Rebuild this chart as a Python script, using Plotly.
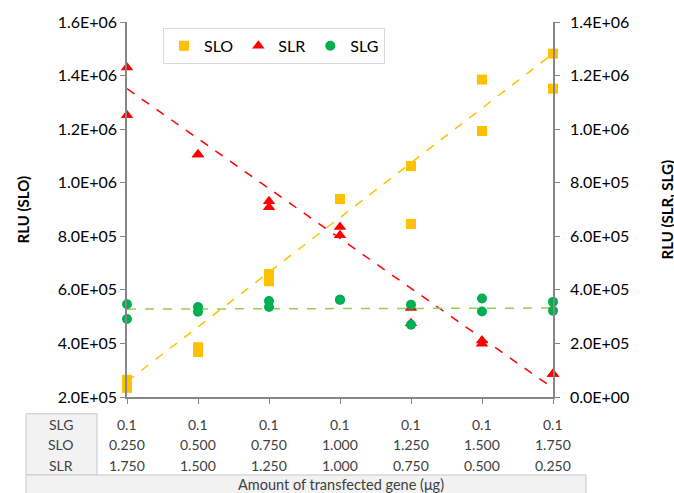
import plotly.graph_objects as go

# ---- data ----
slg_amt = ["0.1", "0.1", "0.1", "0.1", "0.1", "0.1", "0.1"]
slo_amt = ["0.250", "0.500", "0.750", "1.000", "1.250", "1.500", "1.750"]
slr_amt = ["1.750", "1.500", "1.250", "1.000", "0.750", "0.500", "0.250"]
cat_idx = [0, 1, 2, 3, 4, 5, 6]

# replicate measurements (two per condition)
slo_rep1 = [2.64e5, 3.86e5, 6.59e5, 9.39e5, 1.062e6, 1.385e6, 1.482e6]
slo_rep2 = [2.34e5, 3.68e5, 6.32e5, 9.39e5, 8.46e5, 1.193e6, 1.351e6]
slr_rep1 = [1.23e6, 9.05e5, 7.31e5, 6.35e5, 3.32e5, 2.11e5, 8.6e4]
slr_rep2 = [1.052e6, 9.05e5, 7.08e5, 6.04e5, 2.75e5, 1.99e5, 8.6e4]
slg_rep1 = [3.46e5, 3.36e5, 3.58e5, 3.63e5, 3.44e5, 3.68e5, 3.55e5]
slg_rep2 = [2.91e5, 3.18e5, 3.36e5, 3.63e5, 2.70e5, 3.19e5, 3.22e5]

# linear trend lines (first and last category)
trend_x = [0, 6]
slo_trend = [2.58e5, 1.482e6]
slr_trend = [1.151e6, 3.3e4]
slg_trend = [3.28e5, 3.32e5]

left_ticks = [2e5, 4e5, 6e5, 8e5, 1e6, 1.2e6, 1.4e6, 1.6e6]
left_ticktext = ["2.0E+05", "4.0E+05", "6.0E+05", "8.0E+05", "1.0E+06", "1.2E+06", "1.4E+06", "1.6E+06"]
right_ticks = [0, 2e5, 4e5, 6e5, 8e5, 1e6, 1.2e6, 1.4e6]
right_ticktext = ["0.0E+00", "2.0E+05", "4.0E+05", "6.0E+05", "8.0E+05", "1.0E+06", "1.2E+06", "1.4E+06"]

# ---- styles ----
C_SLO = "#FFC000"
C_SLR = "#FF0000"
C_SLG = "#00B050"
C_SLG_T = "#92D050"
AX = "#868686"
FONT = "Lato"

W, H = 674, 493
L, R, T, B = 127, 121, 17, 96
PW, PH = W - L - R, H - T - B


def px_x(p):
    return (p - L) / PW


def px_y(p):
    return (H - B - p) / PH


fig = go.Figure()

xs = cat_idx + cat_idx

# trend lines
fig.add_trace(go.Scatter(x=trend_x, y=slo_trend, mode="lines", line=dict(color=C_SLO, dash="dash", width=1.5),
                         showlegend=False, hoverinfo="skip"))
fig.add_trace(go.Scatter(x=trend_x, y=slr_trend, mode="lines", line=dict(color=C_SLR, dash="dash", width=1.5),
                         showlegend=False, hoverinfo="skip", yaxis="y2"))
fig.add_trace(go.Scatter(x=trend_x, y=slg_trend, mode="lines", line=dict(color=C_SLG_T, dash="dash", width=1.5),
                         showlegend=False, hoverinfo="skip", yaxis="y2"))

# markers
fig.add_trace(go.Scatter(x=xs, y=slo_rep1 + slo_rep2, mode="markers", name="SLO",
                         marker=dict(symbol="square", size=10, color=C_SLO), cliponaxis=False))
fig.add_trace(go.Scatter(x=xs, y=slr_rep1 + slr_rep2, mode="markers", name="SLR", yaxis="y2",
                         marker=dict(symbol="triangle-up", size=11, color=C_SLR), cliponaxis=False))
fig.add_trace(go.Scatter(x=xs, y=slg_rep1 + slg_rep2, mode="markers", name="SLG", yaxis="y2",
                         marker=dict(symbol="circle", size=10, color=C_SLG), cliponaxis=False))

annotations = []
# axis titles
annotations.append(dict(text="<b>RLU (SLO)</b>", x=px_x(22), y=px_y(207), xref="paper", yref="paper",
                        textangle=-90, showarrow=False, font=dict(size=15, color="black", family=FONT),
                        xanchor="center", yanchor="middle"))
annotations.append(dict(text="<b>RLU (SLR, SLG)</b>", x=px_x(666), y=px_y(207), xref="paper", yref="paper",
                        textangle=-90, showarrow=False, font=dict(size=15, color="black", family=FONT),
                        xanchor="center", yanchor="middle"))

# table rows
rows = [("SLG", slg_amt, 425), ("SLO", slo_amt, 445), ("SLR", slr_amt, 466)]
tfont = dict(size=14, color="#404040", family=FONT)
for name, vals, ypx in rows:
    annotations.append(dict(text=name, x=px_x(61), y=px_y(ypx), xref="paper", yref="paper",
                            showarrow=False, font=tfont, xanchor="center", yanchor="middle"))
    for xi, v in zip(cat_idx, vals):
        annotations.append(dict(text=v, x=xi, y=px_y(ypx), xref="x", yref="paper",
                                showarrow=False, font=tfont, xanchor="center", yanchor="middle"))
annotations.append(dict(text="Amount of transfected gene (μg)", x=px_x(341), y=px_y(486), xref="paper",
                        yref="paper", showarrow=False, font=dict(size=14.5, color="#404040", family=FONT),
                        xanchor="center", yanchor="middle"))

shapes = [
    dict(type="rect", xref="paper", yref="paper", x0=px_x(26), x1=px_x(97), y0=px_y(476), y1=px_y(414),
         line=dict(color="#C8C8C8", width=1), fillcolor="#F2F2F2", layer="below"),
    dict(type="rect", xref="paper", yref="paper", x0=px_x(26), x1=px_x(586), y0=px_y(500), y1=px_y(476),
         line=dict(color="#C8C8C8", width=1), fillcolor="#F2F2F2", layer="below"),
]

fig.update_layout(
    width=W, height=H,
    margin=dict(l=L, r=R, t=T, b=B),
    paper_bgcolor="white", plot_bgcolor="white",
    font=dict(family=FONT, color="black"),
    xaxis=dict(range=[cat_idx[0], cat_idx[-1]], tickvals=cat_idx, showticklabels=False, ticks="outside",
               ticklen=5, tickcolor=AX, showline=True, linecolor=AX, linewidth=1.5, showgrid=False,
               zeroline=False, fixedrange=True),
    yaxis=dict(range=[left_ticks[0], left_ticks[-1]], tickvals=left_ticks, ticktext=left_ticktext,
               ticks="outside", ticklen=5, tickcolor=AX, showline=True, linecolor=AX, linewidth=1.5,
               showgrid=False, zeroline=False, tickfont=dict(size=16, family=FONT, color="black")),
    yaxis2=dict(range=[right_ticks[0], right_ticks[-1]], tickvals=right_ticks, ticktext=right_ticktext,
                overlaying="y", side="right", ticks="outside", ticklen=5, tickcolor=AX, showline=True,
                linecolor=AX, linewidth=1.5, showgrid=False, zeroline=False, ticklabelstandoff=7,
                tickfont=dict(size=16, family=FONT, color="black")),
    legend=dict(orientation="h", x=px_x(163), y=px_y(23), xanchor="left", yanchor="top",
                bgcolor="white", bordercolor="#D9D9D9", borderwidth=1,
                font=dict(size=16, family=FONT, color="black"), itemwidth=30),
    annotations=annotations,
    shapes=shapes,
)

fig.write_html("out.html", config={"displayModeBar": False},
               post_script="document.body.style.margin='0';document.body.style.overflow='hidden';")
